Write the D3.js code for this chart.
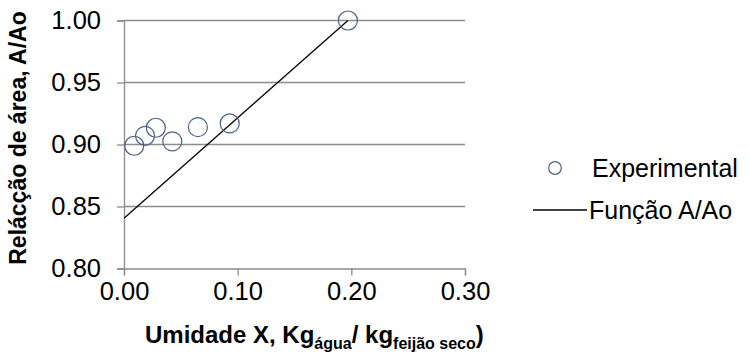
<!DOCTYPE html>
<html>
<head>
<meta charset="utf-8">
<script src="https://cdn.jsdelivr.net/npm/d3@7"></script>
<style>
  body { margin: 0; background: #fff; }
  svg { font-family: Arial, 'Liberation Sans', sans-serif; }
</style>
</head>
<body>
<div id="chart"></div>
<script>
// experimental points (moisture X, area ratio A/Ao)
const moisture = [0.009, 0.0185, 0.028, 0.0425, 0.065, 0.093, 0.197];
const areaRatio = [0.899, 0.907, 0.9135, 0.9025, 0.914, 0.917, 1.0];
// fitted function A/Ao, end points
const fitX = [0, 0.197];
const fitY = [0.8405, 1.0];
const xTicks = [0, 0.1, 0.2, 0.3];
const yTicks = [0.8, 0.85, 0.9, 0.95, 1.0];
const legendLabels = ['Experimental', 'Função A/Ao'];

const w = 749;
const h = 360;

const svg = d3.select('#chart')
  .append('svg')
  .attr('width', w)
  .attr('height', h);

const x = d3.scaleLinear().domain([0, 0.3]).range([124, 465]);
const y = d3.scaleLinear().domain([0.8, 1.0]).range([268.5, 20.5]);

// gridlines
svg.selectAll('line.grid')
  .data(yTicks.slice(1))
  .enter()
  .append('line')
  .attr('class', 'grid')
  .attr('x1', x(0))
  .attr('x2', x(0.3))
  .attr('y1', d => y(d))
  .attr('y2', d => y(d))
  .attr('stroke', '#8c8c8c')
  .attr('stroke-width', 1.3);

// y axis
const yAxis = svg.append('g')
  .attr('transform', `translate(${x(0)},0)`)
  .call(d3.axisLeft(y).tickValues(yTicks).tickFormat(d3.format('.2f')).tickSize(7).tickPadding(16));

// x axis
const xAxis = svg.append('g')
  .attr('transform', `translate(0,${y(0.8)})`)
  .call(d3.axisBottom(x).tickValues(xTicks).tickFormat(d3.format('.2f')).tickSize(7).tickPadding(6));

[yAxis, xAxis].forEach(a => {
  a.select('.domain').attr('stroke', '#8c8c8c').attr('stroke-width', 1.3);
  a.selectAll('.tick line').attr('stroke', '#8c8c8c').attr('stroke-width', 1.3);
  a.selectAll('.tick text')
    .attr('fill', '#000')
    .style('font-size', '25.5px')
    .style('font-family', 'Arial, "Liberation Sans", sans-serif');
});

// fitted line
svg.append('line')
  .attr('x1', x(fitX[0]))
  .attr('y1', y(fitY[0]))
  .attr('x2', x(fitX[1]))
  .attr('y2', y(fitY[1]))
  .attr('stroke', '#000')
  .attr('stroke-width', 1.3);

// experimental points
svg.selectAll('circle.pt')
  .data(moisture)
  .enter()
  .append('circle')
  .attr('class', 'pt')
  .attr('cx', d => x(d))
  .attr('cy', (d, i) => y(areaRatio[i]))
  .attr('r', 9.5)
  .attr('fill', 'none')
  .attr('stroke', '#4a6285')
  .attr('stroke-width', 1.2);

// axis titles
svg.append('text')
  .attr('transform', 'translate(26,138) rotate(-90)')
  .attr('text-anchor', 'middle')
  .attr('font-weight', 'bold')
  .attr('font-size', '23px')
  .text('Relácção de área,  A/Ao');

const xt = svg.append('text')
  .attr('x', 145)
  .attr('y', 343)
  .attr('font-weight', 'bold')
  .attr('font-size', '24px');
xt.append('tspan').text('Umidade X, Kg');
xt.append('tspan').attr('dy', 6).attr('font-size', '16px').text('água');
xt.append('tspan').attr('dy', -6).text('/ kg');
xt.append('tspan').attr('dy', 6).attr('font-size', '16px').text('feijão seco');
xt.append('tspan').attr('dy', -6).text(')');

// legend
const legend = svg.append('g');
legend.append('circle')
  .attr('cx', 555)
  .attr('cy', 168)
  .attr('r', 6.3)
  .attr('fill', 'none')
  .attr('stroke', '#4a6285')
  .attr('stroke-width', 1.2);
legend.append('line')
  .attr('x1', 533)
  .attr('x2', 587)
  .attr('y1', 210)
  .attr('y2', 210)
  .attr('stroke', '#000')
  .attr('stroke-width', 1.3);
legend.selectAll('text')
  .data(legendLabels)
  .enter()
  .append('text')
  .attr('x', (d, i) => i === 0 ? 592 : 589)
  .attr('y', (d, i) => 168 + i * 42)
  .attr('dy', '0.35em')
  .attr('font-size', '25px')
  .text(d => d);
</script>
</body>
</html>
